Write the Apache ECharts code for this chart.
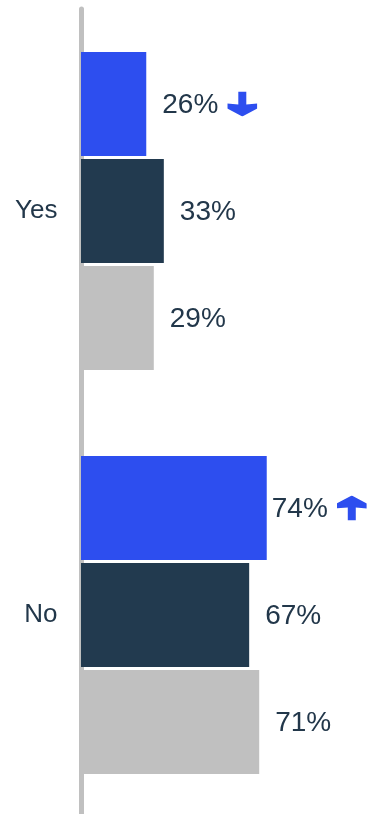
<!DOCTYPE html>
<html>
<head>
<meta charset="utf-8">
<script src="https://cdn.jsdelivr.net/npm/echarts@6/dist/echarts.min.js"></script>
<style>
  html, body { margin: 0; padding: 0; background: #ffffff; }
  #chart { width: 369px; height: 814px; }
</style>
</head>
<body>
<div id="chart"></div>
<script>
// Answer categories and the three compared groups (percent)
const categories = ['Yes', 'No'];
const currentValues = [26, 74];
const previousValues = [33, 67];
const baselineValues = [29, 71];
// Direction of change shown beside the current-period label
const currentTrend = ['down', 'up'];

const BLUE = '#2D4EEF';
const NAVY = '#223A4F';
const GREY = '#C0C0C0';
const TEXT = '#22374A';

function svgUri(path) {
  const svg = '<svg xmlns="http://www.w3.org/2000/svg" viewBox="0 0 30 25" width="30" height="25">' +
    '<path d="' + path + '" fill="' + BLUE + '"/></svg>';
  return 'data:image/svg+xml;charset=utf-8,' + encodeURIComponent(svg);
}
const arrowDown = svgUri('M11 0 H19 V13 L30 12 V17 L15 25 L0 17 V12 L11 13 Z');
const arrowUp = svgUri('M15 0 L30 8 V13 L19 12 V25 H11 V12 L0 13 V8 Z');

const valueRich = {
  v: { fontFamily: 'Liberation Sans, Arial, sans-serif', fontSize: 28, color: TEXT, padding: [3, 0, 0, 0] },
  sp: { width: 9 },
  down: { width: 30, height: 25, backgroundColor: { image: arrowDown } },
  up: { width: 30, height: 25, backgroundColor: { image: arrowUp } }
};

function makeData(values, trend) {
  return values.map((v, i) => {
    const item = { value: v };
    if (trend) {
      item.label = {
        distance: v > 50 ? 5 : 16,
        formatter: '{v|' + v + '%}{sp|}{' + trend[i] + '|}'
      };
    }
    return item;
  });
}

function barSeries(name, values, color, trend) {
  return {
    name: name,
    type: 'bar',
    barWidth: 104,
    barGap: '3%',
    itemStyle: { color: color },
    label: {
      show: true,
      position: 'right',
      distance: 16,
      formatter: '{v|{c}%}',
      rich: valueRich
    },
    data: makeData(values, trend)
  };
}

const chart = echarts.init(document.getElementById('chart'), null, { renderer: 'canvas' });
chart.setOption({
  animation: false,
  backgroundColor: '#ffffff',
  grid: { left: 81, top: 9, width: 251, bottom: -3, outerBoundsMode: 'none' },
  xAxis: { type: 'value', min: 0, max: 100, show: false },
  yAxis: {
    type: 'category',
    data: categories,
    inverse: true,
    offset: 2.5,
    axisLine: { show: true, lineStyle: { color: GREY, width: 5 } },
    axisTick: { show: false },
    axisLabel: {
      margin: 21,
      fontFamily: 'Liberation Sans, Arial, sans-serif',
      fontSize: 26,
      color: TEXT
    }
  },
  series: [
    barSeries('Current', currentValues, BLUE, currentTrend),
    barSeries('Previous', previousValues, NAVY),
    barSeries('Baseline', baselineValues, GREY)
  ]
});
</script>
</body>
</html>
